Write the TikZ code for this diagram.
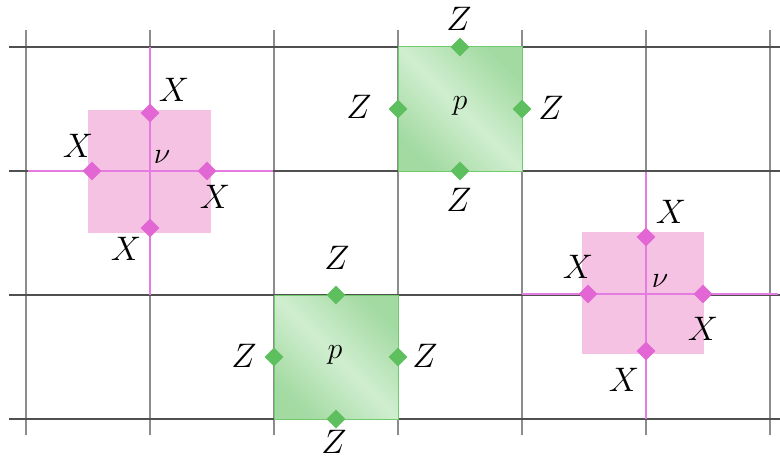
\documentclass[tikz,border=0pt]{standalone}
\usepackage{fix-cm}
\usetikzlibrary{shapes.geometric}
\definecolor{gridv}{HTML}{8C8C8C}
\definecolor{gridh}{HTML}{505050}
\definecolor{pinkfill}{HTML}{F5C2E4}
\definecolor{pinkline}{HTML}{E47CE2}
\definecolor{pinkdia}{HTML}{E266D4}
\definecolor{greenfill}{HTML}{A3DAA2}
\definecolor{greenlight}{HTML}{D0EECF}
\definecolor{greenedge}{HTML}{70CA6E}
\definecolor{greendia}{HTML}{5DBF5D}
\begin{document}
\begin{tikzpicture}[x=1pt,y=-1pt,
  vline/.style={draw=gridv,line width=1.3pt},
  hline/.style={draw=gridh,line width=1.1pt},
  pline/.style={draw=pinkline,line width=1.3pt},
  pbox/.style={fill=pinkfill,draw=none},
  gbox/.style={draw=greenedge,line width=1pt,
     left color=greenfill,right color=greenfill,middle color=greenlight,shading angle=135},
  dia/.style={diamond,minimum size=19pt,inner sep=0pt,draw=none},
  pdia/.style={dia,fill=pinkdia},
  gdia/.style={dia,fill=greendia},
  lab/.style={font=\fontsize{34}{38}\selectfont,inner sep=0pt},
  cen/.style={font=\fontsize{30}{34}\selectfont,inner sep=0pt}]
\useasboundingbox (0,0) rectangle (780,460);
\fill[white] (0,0) rectangle (780,460);
% grid
\foreach \x in {26,150,274,398,522,646,770}
  \draw[vline] (\x,30) -- (\x,435);
\foreach \y in {47,171,295,419}
  \draw[hline] (9,\y) -- (780,\y);
% pink box 1
\fill[pbox] (88,110) rectangle (211,233);
\draw[pline] (150,47) -- (150,295);
\draw[pline] (28,171) -- (273,171);
\node[pdia] (a1) at (150,113) {};
\node[pdia] (a2) at (92,171) {};
\node[pdia] (a3) at (207,171) {};
\node[pdia] (a4) at (150,228) {};
\node[lab] (la1) at (174,90) {$X$};
\node[lab] (la2) at (78,146) {$X$};
\node[lab] (la3) at (215,197) {$X$};
\node[lab] (la4) at (126,249) {$X$};
\node[cen] (ca) at (162,157) {$\nu$};
% pink box 2
\fill[pbox] (582,232) rectangle (704,354);
\draw[pline] (646,172) -- (646,419);
\draw[pline] (522,294) -- (778,294);
\node[pdia] (b1) at (646,237) {};
\node[pdia] (b2) at (588,294) {};
\node[pdia] (b3) at (703,294) {};
\node[pdia] (b4) at (646,351) {};
\node[lab] (lb1) at (671,212) {$X$};
\node[lab] (lb2) at (578,267) {$X$};
\node[lab] (lb3) at (703,329) {$X$};
\node[lab] (lb4) at (624,380) {$X$};
\node[cen] (cb) at (660,281) {$\nu$};
% green box 1
\path[gbox] (398,47) rectangle (522,171);
\node[gdia] (c1) at (460,47) {};
\node[gdia] (c2) at (398,109) {};
\node[gdia] (c3) at (522,109) {};
\node[gdia] (c4) at (460,171) {};
\node[lab] (lc1) at (459,19) {$Z$};
\node[lab] (lc2) at (359,107) {$Z$};
\node[lab] (lc3) at (551,108) {$Z$};
\node[lab] (lc4) at (459,200) {$Z$};
\node[cen] (cc) at (460,106) {$p$};
% green box 2
\path[gbox] (274,295) rectangle (398,419);
\node[gdia] (d1) at (336,295) {};
\node[gdia] (d2) at (274,357) {};
\node[gdia] (d3) at (398,357) {};
\node[gdia] (d4) at (336,419) {};
\node[lab] (ld1) at (337,258) {$Z$};
\node[lab] (ld2) at (244,356) {$Z$};
\node[lab] (ld3) at (425,356) {$Z$};
\node[lab] (ld4) at (334,442) {$Z$};
\node[cen] (cd) at (335,355) {$p$};
\end{tikzpicture}
\end{document}
